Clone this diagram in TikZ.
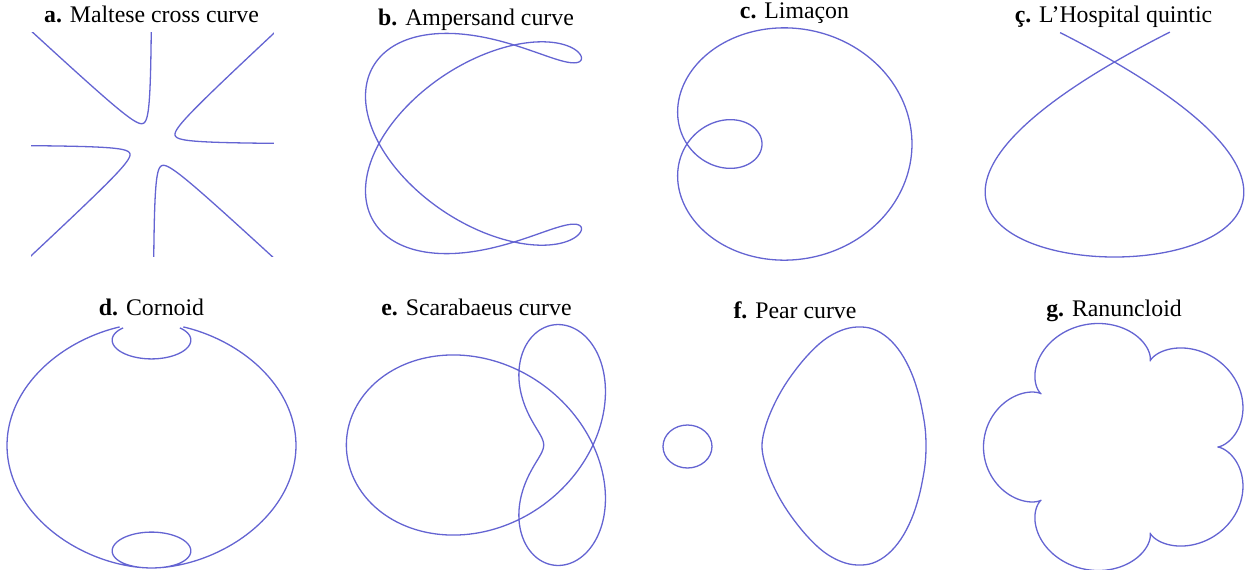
\documentclass[tikz,border=0pt]{standalone}
\usepackage{fontspec}
\setmainfont{Liberation Serif}
\usepackage{xcolor}
\usepackage{tikz}
\definecolor{curveblue}{RGB}{100,100,210}

\begin{document}
\begin{tikzpicture}[
  x=0.5pt, y=-0.5pt,
  crv/.style={draw=curveblue, line width=0.65pt, line join=round},
  ttl/.style={font=\rmfamily\fontsize{11.9}{14}\selectfont, anchor=base, inner sep=0pt},
  declare function={
    ampc(\t)=0.872872*cos(\t);
    ampu(\t)=ampc(\t)*ampc(\t);
    ampr(\t)=(ampc(\t)*(11+10*ampu(\t))+(ampu(\t)-0.5)*13.8564*sin(\t))/(2*(4-2*ampu(\t)+4*ampu(\t)*ampu(\t)));
    scar(\t)=2/3*cos(2*\t)-cos(\t);
    malt(\t)=22.5-22.3*cos(\t);
  }
]
  \useasboundingbox (0,0) rectangle (1250,569);

  \node[ttl] (tMaltese) at (151.5,22.7) {\textbf{a.} Maltese cross curve};
  \node[ttl] (tAmpersand) at (476,25) {\textbf{b.} Ampersand curve};
  \node[ttl] (tLimacon) at (794.5,18.3) {\textbf{c.} Limaçon};
  \node[ttl] (tQuintic) at (1113.5,22.7) {\textbf{ç.} L’Hospital quintic};
  \node[ttl] (tCornoid) at (151.5,315) {\textbf{d.} Cornoid};
  \node[ttl] (tScarab) at (476.5,315) {\textbf{e.} Scarabaeus curve};
  \node[ttl] (tPear) at (795,318.3) {\textbf{f.} Pear curve};
  \node[ttl] (tRanun) at (1114,316) {\textbf{g.} Ranuncloid};

  \begin{scope}[shift={(152.5,144.5)}, xscale=12.33, yscale=-11.42]
    \clip (-9.85,-9.85) rectangle (9.85,9.85);
    \foreach \k in {0,1,2,3}
      \draw[crv] plot[domain=0:180, samples=220, variable=\p]
        ({2/sqrt(sin(4*malt(\p)))*cos(90*\k+malt(\p))}, {2/sqrt(sin(4*malt(\p)))*sin(90*\k+malt(\p))});
  \end{scope}

  \begin{scope}[shift={(379,143.5)}, xscale=135, yscale=-98.5]
    \draw[crv] plot[domain=0:360, samples=400, variable=\p]
      ({ampr(\p)*ampc(\p)}, {ampr(\p)*sqrt(1-ampu(\p))});
  \end{scope}

  \begin{scope}[shift={(687,144)}, xscale=75, yscale=-66]
    \draw[crv] plot[domain=0:360, samples=300, variable=\p]
      ({(1+2*cos(\p))*cos(\p)}, {(1+2*cos(\p))*sin(\p)});
  \end{scope}

  \begin{scope}[shift={(1114.5,257)}, xscale=336, yscale=-195]
    \draw[crv] plot[domain=-1.074:1.074, samples=200, variable=\p]
      ({\p*(1-\p*\p)}, {\p*\p});
  \end{scope}

  \begin{scope}[shift={(151.5,445.5)}, xscale=144.5, yscale=-86.6]
    \draw[crv] plot[domain=55:125, samples=100, variable=\p]
      ({cos(\p)*cos(2*\p)}, {sin(\p)*(2+cos(2*\p))});
    \draw[crv] plot[domain=143:397, samples=300, variable=\p]
      ({cos(\p)*cos(2*\p)}, {sin(\p)*(2+cos(2*\p))});
  \end{scope}

  \begin{scope}[shift={(593,445)}, xscale=148, yscale=-149]
    \draw[crv] plot[domain=0:360, samples=400, variable=\p]
      ({scar(\p)*cos(\p)}, {scar(\p)*sin(\p)});
  \end{scope}

  \draw[crv] (687.5,446.5) ellipse [x radius=24.5, y radius=21.5];
  \draw[crv] plot[smooth cycle, tension=0.6] coordinates {
    (762,446) (764,432) (769.5,415) (779,395) (791,376) (807,356) (824,340) (841,330.5)
    (857,327) (873,329) (888,338) (901,353) (911.5,373) (918.8,395) (923.3,416) (925.4,431)
    (926,446) (925.4,461) (923.3,476) (918.8,497) (911.5,519) (901,539) (888,554) (873,563)
    (857,565) (841,561.5) (824,552) (807,536) (791,516) (779,497) (769.5,477) (764,460)};

  \begin{scope}[shift={(1120,447)}, xscale=19.5, yscale=-18.1]
    \draw[crv] plot[domain=0:360, samples=361, variable=\p]
      ({6*cos(\p)-cos(6*\p)}, {6*sin(\p)-sin(6*\p)});
  \end{scope}
\end{tikzpicture}
\end{document}
